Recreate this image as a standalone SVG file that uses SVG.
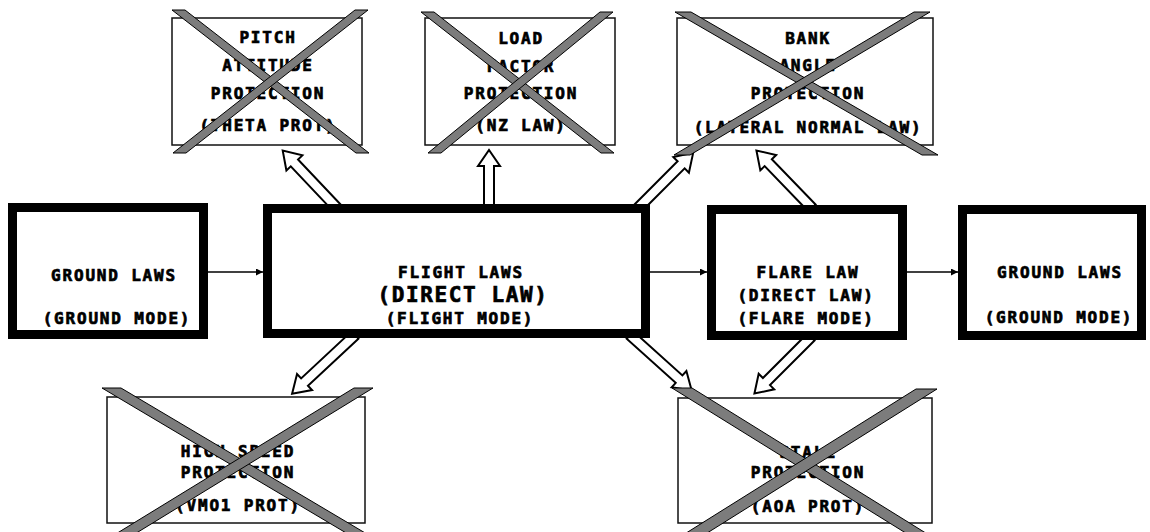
<svg xmlns="http://www.w3.org/2000/svg" width="1150" height="532" viewBox="0 0 1150 532">
  <style>
    .mode { fill: #fff; stroke: #000; stroke-width: 9; }
    .prot { fill: #fff; stroke: #111; stroke-width: 1.5; }
    .x { fill: #7c7c7c; stroke: #000; stroke-width: 1; }
    .t { font-family: "DejaVu Sans Mono", "Liberation Mono", monospace; font-weight: bold; font-size: 16px; letter-spacing: 1.8px; text-anchor: middle; fill: #000; stroke: #000; stroke-width: 0.7; }
    .big { font-size: 21px; letter-spacing: 1.6px; }
    .flow { stroke: #000; stroke-width: 1.5; fill: none; }
    .hollow { fill: #fff; stroke: #000; stroke-width: 2; stroke-linejoin: miter; }
  </style>
  <defs>
    <marker id="head" viewBox="0 0 10 10" refX="10" refY="5" markerWidth="7" markerHeight="7" markerUnits="userSpaceOnUse" orient="auto">
      <path d="M0,0 L10,5 L0,10 z" fill="#000"/>
    </marker>
  </defs>

  <rect width="1150" height="532" fill="#fff"/>

  <!-- connectors -->
  <g id="connectors">
    <line class="flow" x1="208" y1="272" x2="263" y2="272" marker-end="url(#head)"/>
    <line class="flow" x1="650" y1="272" x2="707" y2="272" marker-end="url(#head)"/>
    <line class="flow" x1="907" y1="272" x2="958" y2="272" marker-end="url(#head)"/>

    <!-- hollow protection arrows: local shape points along +x, tip at x = length -->
    <g transform="translate(337,208) rotate(-133.4)">
      <polygon class="hollow" points="0,-5 62,-5 62,-11 79,0 62,11 62,5 0,5"/>
    </g>
    <g transform="translate(489,208) rotate(-90)">
      <polygon class="hollow" points="0,-5 42,-5 42,-11 58,0 42,11 42,5 0,5"/>
    </g>
    <g transform="translate(638,208) rotate(-45)">
      <polygon class="hollow" points="0,-5 61,-5 61,-11 78,0 61,11 61,5 0,5"/>
    </g>
    <g transform="translate(812,208) rotate(-134)">
      <polygon class="hollow" points="0,-5 63,-5 63,-11 80,0 63,11 63,5 0,5"/>
    </g>
    <g transform="translate(355,335) rotate(137)">
      <polygon class="hollow" points="0,-5 69,-5 69,-11 86,0 69,11 69,5 0,5"/>
    </g>
    <g transform="translate(630,335) rotate(42)">
      <polygon class="hollow" points="0,-5 66,-5 66,-11 83,0 66,11 66,5 0,5"/>
    </g>
    <g transform="translate(811,337) rotate(135)">
      <polygon class="hollow" points="0,-5 63,-5 63,-11 80,0 63,11 63,5 0,5"/>
    </g>
  </g>

  <!-- mode boxes -->
  <g id="ground-laws-start">
    <rect class="mode" x="12.5" y="207.5" width="191" height="127"/>
    <text class="t" x="114" y="281">GROUND LAWS</text>
    <text class="t" x="117" y="324">(GROUND MODE)</text>
  </g>

  <g id="flight-laws">
    <rect class="mode" x="267.5" y="208.5" width="378" height="125"/>
    <text class="t" x="461" y="278">FLIGHT LAWS</text>
    <text class="t big" x="463" y="302">(DIRECT LAW)</text>
    <text class="t" x="460" y="324">(FLIGHT MODE)</text>
  </g>

  <g id="flare-law">
    <rect class="mode" x="711.5" y="209.5" width="191" height="126"/>
    <text class="t" x="808" y="278">FLARE LAW</text>
    <text class="t" x="806" y="301">(DIRECT LAW)</text>
    <text class="t" x="806" y="324">(FLARE MODE)</text>
  </g>

  <g id="ground-laws-end">
    <rect class="mode" x="962.5" y="209.5" width="179" height="126"/>
    <text class="t" x="1060" y="278">GROUND LAWS</text>
    <text class="t" x="1059" y="323">(GROUND MODE)</text>
  </g>

  <!-- protections, each struck through -->
  <g id="pitch-attitude-protection">
    <rect class="prot" x="172" y="18" width="190" height="127"/>
    <text class="t" x="268" y="43">PITCH</text>
    <text class="t" x="268" y="71">ATTITUDE</text>
    <text class="t" x="268" y="99">PROTECTION</text>
    <text class="t" x="268" y="131">(THETA PROT)</text>
    <polygon class="x" points="172,10 185,10 369,153 356,153"/>
    <polygon class="x" points="355,10 368,10 186,153 173,153"/>
  </g>

  <g id="load-factor-protection">
    <rect class="prot" x="425" y="18" width="190" height="127"/>
    <text class="t" x="521" y="44">LOAD</text>
    <text class="t" x="521" y="72">FACTOR</text>
    <text class="t" x="521" y="99">PROTECTION</text>
    <text class="t" x="521" y="131">(NZ LAW)</text>
    <polygon class="x" points="421,12 434,12 614,153 601,153"/>
    <polygon class="x" points="600,12 613,12 441,153 428,153"/>
  </g>

  <g id="bank-angle-protection">
    <rect class="prot" x="677" y="18" width="256" height="127"/>
    <text class="t" x="808" y="44">BANK</text>
    <text class="t" x="808" y="71">ANGLE</text>
    <text class="t" x="808" y="99">PROTECTION</text>
    <text class="t" x="808" y="133">(LATERAL NORMAL LAW)</text>
    <polygon class="x" points="675,12 691,12 938,155 922,155"/>
    <polygon class="x" points="914,12 930,12 690,155 674,155"/>
  </g>

  <g id="high-speed-protection">
    <rect class="prot" x="107" y="397" width="258" height="126"/>
    <text class="t" x="238" y="457">HIGH SPEED</text>
    <text class="t" x="238" y="478">PROTECTION</text>
    <text class="t" x="238" y="511">(VMO1 PROT)</text>
    <polygon class="x" points="102,388 121,388 377,540 358,540"/>
    <polygon class="x" points="354,388 373,388 125,540 106,540"/>
  </g>

  <g id="stall-protection">
    <rect class="prot" x="678" y="398" width="254" height="125"/>
    <text class="t" x="808" y="458">STALL</text>
    <text class="t" x="808" y="478">PROTECTION</text>
    <text class="t" x="808" y="512">(AOA PROT)</text>
    <polygon class="x" points="672,388 692,388 937,540 917,540"/>
    <polygon class="x" points="916,389 937,389 696,540 675,540"/>
  </g>
</svg>
